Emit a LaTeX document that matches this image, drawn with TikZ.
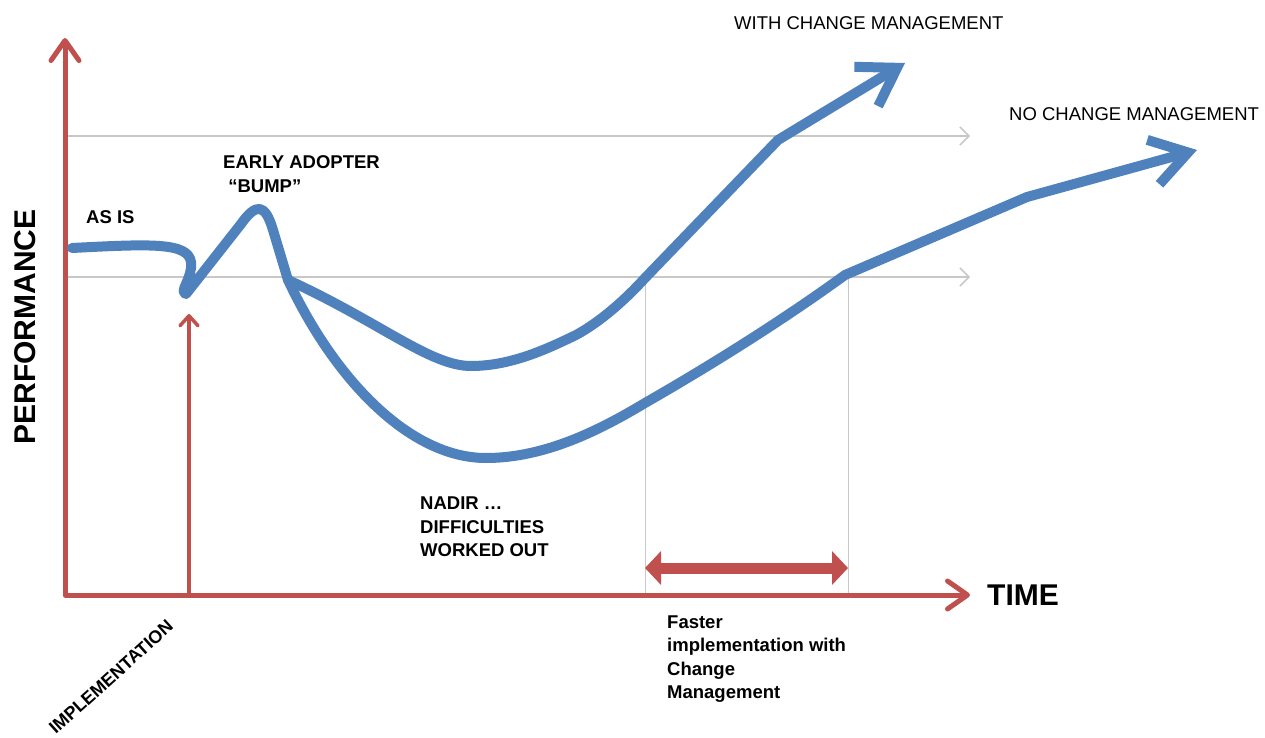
\documentclass[tikz,border=0pt]{standalone}
\usepackage{fontspec}
\setmainfont{Liberation Sans}
\usetikzlibrary{arrows.meta}
\definecolor{axisred}{HTML}{C0504D}
\definecolor{curveblue}{HTML}{4F81BD}
\definecolor{guidegray}{HTML}{C8C8C8}

\begin{document}
\begin{tikzpicture}[x=1pt,y=-1pt,line join=round,
        axis/.style={draw=axisred,line width=5pt},
        guide/.style={draw=guidegray,line width=1.5pt},
        curve/.style={draw=curveblue,line width=10pt,line cap=round},
        lbl/.style={font=\fontsize{18.5}{23.5}\selectfont\bfseries,align=left,anchor=west,inner sep=0pt},
        big/.style={font=\fontsize{30}{34}\selectfont\bfseries,inner sep=0pt},
        plain/.style={lbl,font=\fontsize{18.5}{23}\selectfont},
        barb/.tip={Straight Barb[length=9pt,width=18pt]},
        bluebarb/.tip={Straight Barb[length=36pt,width=46pt]},
        redbarb/.tip={Straight Barb[length=20pt,width=28pt,round]}]
        \useasboundingbox (0,0) rectangle (1265,738);
        \coordinate (o) at (65,595);
        \coordinate (ytop) at (65,38);
        \coordinate (xend) at (970,595);
        \coordinate (fork) at (288,280);
        % guide lines
        \draw[guide,-barb] (65,136) -- (970,136);
        \draw[guide,-barb] (65,277) -- (970,277);
        \draw[guide,line width=1pt] (645,279) -- (645,595);
        \draw[guide,line width=1pt] (848,277) -- (848,595);
        % axes
        \draw[axis,redbarb-redbarb] (ytop) -- (o) -- (xend);
        \draw[axis,line width=3.5pt,-{Straight Barb[length=10pt,width=18pt,round]}] (189,595) -- (189,314);
        \draw[axis,line width=11pt,{Triangle[length=16pt,width=33pt]}-{Triangle[length=16pt,width=33pt]}] (645,568) -- (848,568);
        % performance curves
        \draw[curve] (72,248) .. controls (150,244) and (188,242) .. (191,262)
                .. controls (193,278) and (178,292) .. (186,294)
                -- (241,224) .. controls (256,203) and (265,203) .. (273,230) -- (fork);
        \draw[curve,-bluebarb] (fork) .. controls (380,322) and (430,366) .. (471,366)
                .. controls (510,366) and (545,350) .. (576,335)
                .. controls (600,322) and (625,300) .. (645,278) -- (778,140) -- (905,63);
        \draw[curve,-bluebarb] (fork) .. controls (335,380) and (410,458) .. (486,458)
                .. controls (545,458) and (600,430) .. (645,403)
                .. controls (720,360) and (790,315) .. (845,275) -- (1027,197) -- (1197,150);
        % labels
        \node[big,rotate=90] (perf) at (25,327) {PERFORMANCE};
        \node[big,anchor=west] (time) at (987,595) {TIME};
        \node[lbl] (asis) at (86,217) {AS IS};
        \node[lbl] (bump) at (223,174) {EARLY ADOPTER\\ \ “BUMP”};
        \node[lbl] (nadir) at (420,527) {NADIR …\\DIFFICULTIES\\WORKED OUT};
        \node[lbl] (faster) at (667,659) {Faster\\implementation with\\Change\\Management};
        \node[lbl,rotate=42,anchor=center,font=\fontsize{18}{20}\selectfont\bfseries] (impl) at (111,677) {IMPLEMENTATION};
        \node[plain] (withcm) at (734,23) {WITH CHANGE MANAGEMENT};
        \node[plain] (nocm) at (1009,114) {NO CHANGE MANAGEMENT};
\end{tikzpicture}
\end{document}
